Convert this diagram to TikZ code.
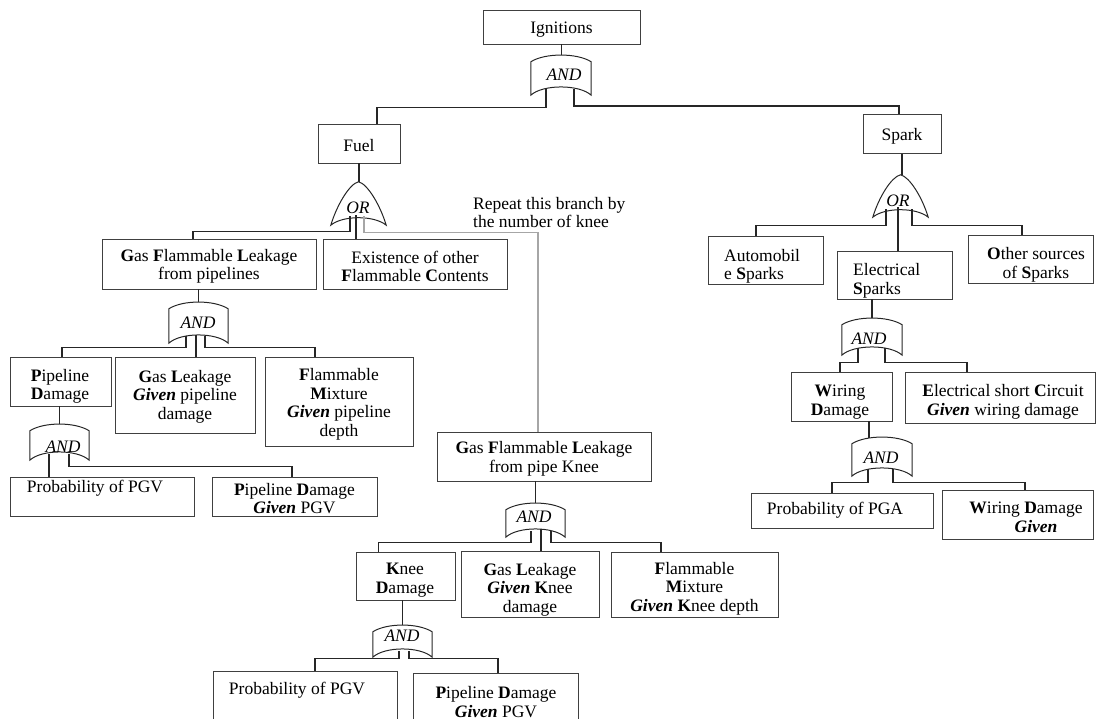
\documentclass[tikz,border=0pt]{standalone}
\usepackage{fontspec}
\setmainfont{Liberation Serif}
\usetikzlibrary{calc}
\newcommand{\dfont}{\fontsize{17.5}{18.5}\selectfont}
\newcommand{\givn}{\textbf{\textit{Given}}}
\newcommand{\andshape}[1]{\draw[gateline] ($(#1.north west)+(0,7)$) .. controls ($(#1.north west)+(14,-2)$) and ($(#1.north east)+(-14,-2)$) .. ($(#1.north east)+(0,7)$) -- (#1.south east) .. controls ($(#1.south east)+(-12,-11)$) and ($(#1.south west)+(12,-11)$) .. (#1.south west) -- cycle;}
\newcommand{\orshape}[1]{\draw[gateline] (#1.north) .. controls ($(#1.north)+(-9,2)$) and ($(#1.south west)+(6,-20)$) .. (#1.south west) .. controls ($(#1.south west)+(12,-10)$) and ($(#1.south east)+(-12,-10)$) .. (#1.south east) .. controls ($(#1.south east)+(-6,-20)$) and ($(#1.north)+(9,2)$) .. (#1.north) -- cycle;}
\begin{document}
\begin{tikzpicture}[x=1pt,y=-1pt,
  box/.style={draw=black!75,line width=0.9pt,inner sep=0pt},
  txt/.style={inner sep=0pt,font=\dfont,align=center,yshift=-2.5pt},
  gbox/.style={inner sep=0pt,draw=none},
  gtxt/.style={inner sep=0pt,font=\dfont\itshape},
  gateline/.style={line width=1pt,black!85},
  conn/.style={line width=1.1pt,black!85},
  greyconn/.style={line width=1.1pt,black!35},
  thickconn/.style={line width=2pt,black!85}]
\useasboundingbox (0,0) rectangle (1096,719);

% ---------- boxes ----------
\node[box,minimum width=157,minimum height=34] (ign) at (561.5,27) {};
\node[box,minimum width=82,minimum height=39] (fuel) at (359,143.5) {};
\node[box,minimum width=78,minimum height=39] (spark) at (902,134) {};
\node[box,minimum width=214,minimum height=50] (gflp) at (209,264) {};
\node[box,minimum width=184,minimum height=50] (exist) at (415,264) {};
\node[box,minimum width=101,minimum height=49] (pipedmg) at (60.5,381.5) {};
\node[box,minimum width=140,minimum height=76] (gasleak) at (185,395) {};
\node[box,minimum width=148,minimum height=89] (flammix) at (339,401.5) {};
\node[box,minimum width=184,minimum height=39] (prob1) at (102,496.5) {};
\node[box,minimum width=165,minimum height=39] (pdgpgv1) at (294.5,496.5) {};
\node[box,minimum width=214,minimum height=49] (gflk) at (544,456.5) {};
\node[box,minimum width=99,minimum height=48] (kneedmg) at (405.5,576) {};
\node[box,minimum width=138,minimum height=66] (gasleak2) at (530,584) {};
\node[box,minimum width=167,minimum height=65] (flammix2) at (694.5,584.5) {};
\node[box,minimum width=184,minimum height=60] (prob2) at (305,701) {};
\node[box,minimum width=165,minimum height=60] (pdgpgv2) at (495.5,703) {};
\node[box,minimum width=115,minimum height=48] (auto) at (765.5,260) {};
\node[box,minimum width=115,minimum height=48] (elec) at (894.5,275) {};
\node[box,minimum width=125,minimum height=48] (other) at (1030.5,259) {};
\node[box,minimum width=101,minimum height=49] (wiring) at (841.5,396.5) {};
\node[box,minimum width=190,minimum height=51] (esc) at (1000,397.5) {};
\node[box,minimum width=182,minimum height=35] (pga) at (842,510.5) {};
\node[box,minimum width=151,minimum height=49] (wdg) at (1017.5,514.5) {};

% ---------- box texts ----------
\node[txt] (ignt) at (561.5,27) {Ignitions};
\node[txt] (fuelt) at (359,143.5) {Fuel};
\node[txt] (sparkt) at (902,134) {Spark};
\node[txt] (gflpt) at (209,264) {\textbf{G}as \textbf{F}lammable \textbf{L}eakage\\from pipelines};
\node[txt] (existt) at (415,264) {Existence of other\\\textbf{F}lammable \textbf{C}ontents};
\node[txt] (gasleakt) at (185,394) {\textbf{G}as \textbf{L}eakage\\\givn{} pipeline\\damage};
\node[txt] (flammixt) at (339,402) {\textbf{F}lammable\\\textbf{M}ixture\\\givn{} pipeline\\depth};
\node[txt] (pdgpgv1t) at (294.5,496) {\textbf{P}ipeline \textbf{D}amage\\\givn{} PGV};
\node[txt] (gflkt) at (544,456.5) {\textbf{G}as \textbf{F}lammable \textbf{L}eakage\\from pipe Knee};
\node[txt] (wdgt) at (1026,515) {\textbf{W}iring \textbf{D}amage\\\hspace*{20pt}\givn};
\begin{scope}\clip (pipedmg.north west) rectangle (pipedmg.south east);
\node[txt] (pipedmgt) at (60,384) {\textbf{P}ipeline\\\textbf{D}amage};\end{scope}
\node[txt] (prob1t) at (95,486) {Probability of PGV};
\begin{scope}\clip (kneedmg.north west) rectangle (kneedmg.south east);
\node[txt] (kneedmgt) at (405,577.5) {\textbf{K}nee\\\textbf{D}amage};\end{scope}
\begin{scope}\clip (gasleak2.north west) rectangle (gasleak2.south east);
\node[txt] (gasleak2t) at (530,587) {\textbf{G}as \textbf{L}eakage\\\givn{} \textbf{K}nee\\damage};\end{scope}
\begin{scope}\clip (flammix2.north west) rectangle (flammix2.south east);
\node[txt] (flammix2t) at (694.5,586) {\textbf{F}lammable\\\textbf{M}ixture\\\givn{} \textbf{K}nee depth};\end{scope}
\node[txt] (prob2t) at (297,688) {Probability of PGV};
\node[txt] (pdgpgv2t) at (496,699.5) {\textbf{P}ipeline \textbf{D}amage\\\givn{} PGV};
\begin{scope}\clip (auto.north west) rectangle (auto.south east);
\node[txt,align=left,anchor=west] (autot) at (724,264) {Automobil\\e \textbf{S}parks};\end{scope}
\begin{scope}\clip (elec.north west) rectangle (elec.south east);
\node[txt,align=left,anchor=west] (elect) at (853,278.5) {Electrical\\\textbf{S}parks};\end{scope}
\begin{scope}\clip (other.north west) rectangle (other.south east);
\node[txt] (othert) at (1036,262.5) {\textbf{O}ther sources\\of \textbf{S}parks};\end{scope}
\begin{scope}\clip (wiring.north west) rectangle (wiring.south east);
\node[txt] (wiringt) at (840,399.5) {\textbf{W}iring\\\textbf{D}amage};\end{scope}
\begin{scope}\clip (esc.north west) rectangle (esc.south east);
\node[txt] (esct) at (1003,399.5) {\textbf{E}lectrical short \textbf{C}ircuit\\\givn{} wiring damage};\end{scope}
\node[txt] (pgat) at (835,508) {Probability of PGA};

\node[txt,yshift=2.5pt,align=left,anchor=west] (rep) at (473,212.5) {Repeat this branch by\\the number of knee};

% ---------- gates ----------
\node[gbox,minimum width=60,minimum height=40] (g1) at (561,75) {};
\node[gbox,minimum width=55,minimum height=43] (or1) at (358.5,203.5) {};
\node[gbox,minimum width=55,minimum height=42] (or2) at (900.5,196) {};
\node[gbox,minimum width=59,minimum height=41] (g2) at (198.5,322.5) {};
\node[gbox,minimum width=59,minimum height=36] (g3) at (59.5,442) {};
\node[gbox,minimum width=59,minimum height=34] (g4) at (535.5,520) {};
\node[gbox,minimum width=59,minimum height=32] (g5) at (402.5,641) {};
\node[gbox,minimum width=60,minimum height=37] (g6) at (872,336.5) {};
\node[gbox,minimum width=60,minimum height=39] (g7) at (882,456.5) {};
\andshape{g1}\andshape{g2}\andshape{g3}\andshape{g4}\andshape{g5}\andshape{g6}\andshape{g7}
\orshape{or1}\orshape{or2}
\node[gtxt] (g1t) at (564,75) {AND};
\node[gtxt] (g2t) at (198,323) {AND};
\node[gtxt] (g3t) at (63,447) {AND};
\node[gtxt] (g4t) at (534,517) {AND};
\node[gtxt] (g5t) at (402,636) {AND};
\node[gtxt] (g6t) at (869,339) {AND};
\node[gtxt] (g7t) at (881,458) {AND};
\node[gtxt] (or1t) at (358,208) {OR};
\node[gtxt] (or2t) at (898,201) {OR};

% ---------- connectors ----------
\draw[conn] (ign.south) -- (ign.south |- g1.north);
\coordinate (g1L) at ($(g1.south)+(-15,-6)$);
\coordinate (g1R) at ($(g1.south)+(13,-6)$);
\draw[conn] (g1L) |- ($(fuel.north)+(18,-16)$) -- ($(fuel.north)+(18,0)$);
\draw[conn] (g1R) |- ($(spark.north)+(-3,-8)$) -- ($(spark.north)+(-3,0)$);

\draw[conn] (fuel.south) -- (fuel.south |- or1.north);
\coordinate (or1L) at ($(or1.south)+(-8.5,-9)$);
\coordinate (or1M) at ($(or1.south)+(-2.5,-10)$);
\coordinate (or1R) at ($(or1.south)+(5.5,-9)$);
\draw[conn] (or1L) |- ($(gflp.north)+(-16,-7)$) -- ($(gflp.north)+(-16,0)$);
\draw[conn] (or1M) -- (or1M |- exist.north);
\draw[greyconn] (or1R) |- ($(gflk.north)+(-6,-199)$) -- ($(gflk.north)+(-6,0)$);

\draw[conn] (g2.north |- gflp.south) -- (g2.north);
\coordinate (g2L) at ($(g2.south)+(-12.5,-7)$);
\coordinate (g2M) at ($(g2.south)+(-2.5,-8)$);
\coordinate (g2R) at ($(g2.south)+(6.5,-7)$);
\draw[conn] (g2L) |- ($(pipedmg.north)+(1.5,-9)$) -- ($(pipedmg.north)+(1.5,0)$);
\draw[conn] (g2M) -- (g2M |- gasleak.north);
\draw[conn] (g2R) |- ($(flammix.north)+(-24,-9)$) -- ($(flammix.north)+(-24,0)$);

\draw[conn] (g3.north |- pipedmg.south) -- (g3.north);
\coordinate (g3L) at ($(g3.south)+(-10.5,-6)$);
\coordinate (g3R) at ($(g3.south)+(9.5,-6)$);
\draw[thickconn] (g3L) -- (g3L |- prob1.north);
\draw[conn] (g3R) |- ($(pdgpgv1.north)+(-2.5,-10)$) -- ($(pdgpgv1.north)+(-2.5,0)$);

\draw[conn] (g4.north |- gflk.south) -- (g4.north);
\coordinate (g4L) at ($(g4.south)+(-4.5,-6)$);
\coordinate (g4M) at ($(g4.south)+(5.5,-8)$);
\coordinate (g4R) at ($(g4.south)+(15.5,-6)$);
\draw[conn] (g4L) |- ($(kneedmg.north)+(-27,-9)$) -- ($(kneedmg.north)+(-27,0)$);
\draw[conn] (g4M) -- (g4M |- gasleak2.north);
\draw[conn] (g4R) |- ($(flammix2.north)+(-33.5,-9)$) -- ($(flammix2.north)+(-33.5,0)$);

\draw[conn] (g5.north |- kneedmg.south) -- (g5.north);
\coordinate (g5L) at ($(g5.south)+(-3.5,-6)$);
\coordinate (g5R) at ($(g5.south)+(6.5,-6)$);
\draw[conn] (g5L) |- ($(prob2.north)+(10,-12)$) -- ($(prob2.north)+(10,0)$);
\draw[conn] (g5R) |- ($(pdgpgv2.north)+(2.5,-14)$) -- ($(pdgpgv2.north)+(2.5,0)$);

\draw[conn] (spark.south) -- (spark.south |- or2.north);
\coordinate (or2L) at ($(or2.south)+(-14.5,-8)$);
\coordinate (or2M) at ($(or2.south)+(-2.5,-10)$);
\coordinate (or2R) at ($(or2.south)+(11.5,-8)$);
\draw[conn] (or2L) |- ($(auto.north)+(-9.5,-10)$) -- ($(auto.north)+(-9.5,0)$);
\draw[conn] (or2M) -- (or2M |- elec.north);
\draw[conn] (or2R) |- ($(other.north)+(-8.5,-9)$) -- ($(other.north)+(-8.5,0)$);

\draw[conn] (g6.north |- elec.south) -- (g6.north);
\coordinate (g6L) at ($(g6.south)+(-14,-7)$);
\coordinate (g6R) at ($(g6.south)+(13,-7)$);
\draw[conn] (g6L) |- ($(wiring.north)+(-1.5,-9)$) -- ($(wiring.north)+(-1.5,0)$);
\draw[conn] (g6R) |- ($(esc.north)+(-33,-9)$) -- ($(esc.north)+(-33,0)$);

\coordinate (g7T) at ($(g7.north)+(-13,1)$);
\draw[conn] (g7T |- wiring.south) -- (g7T);
\coordinate (g7L) at ($(g7.south)+(-14,-7)$);
\coordinate (g7R) at ($(g7.south)+(11,-7)$);
\draw[conn] (g7L) |- ($(pga.north)+(-10,-10)$) -- ($(pga.north)+(-10,0)$);
\draw[conn] (g7R) |- ($(wdg.north)+(7.5,-7)$) -- ($(wdg.north)+(7.5,0)$);
\end{tikzpicture}
\end{document}
